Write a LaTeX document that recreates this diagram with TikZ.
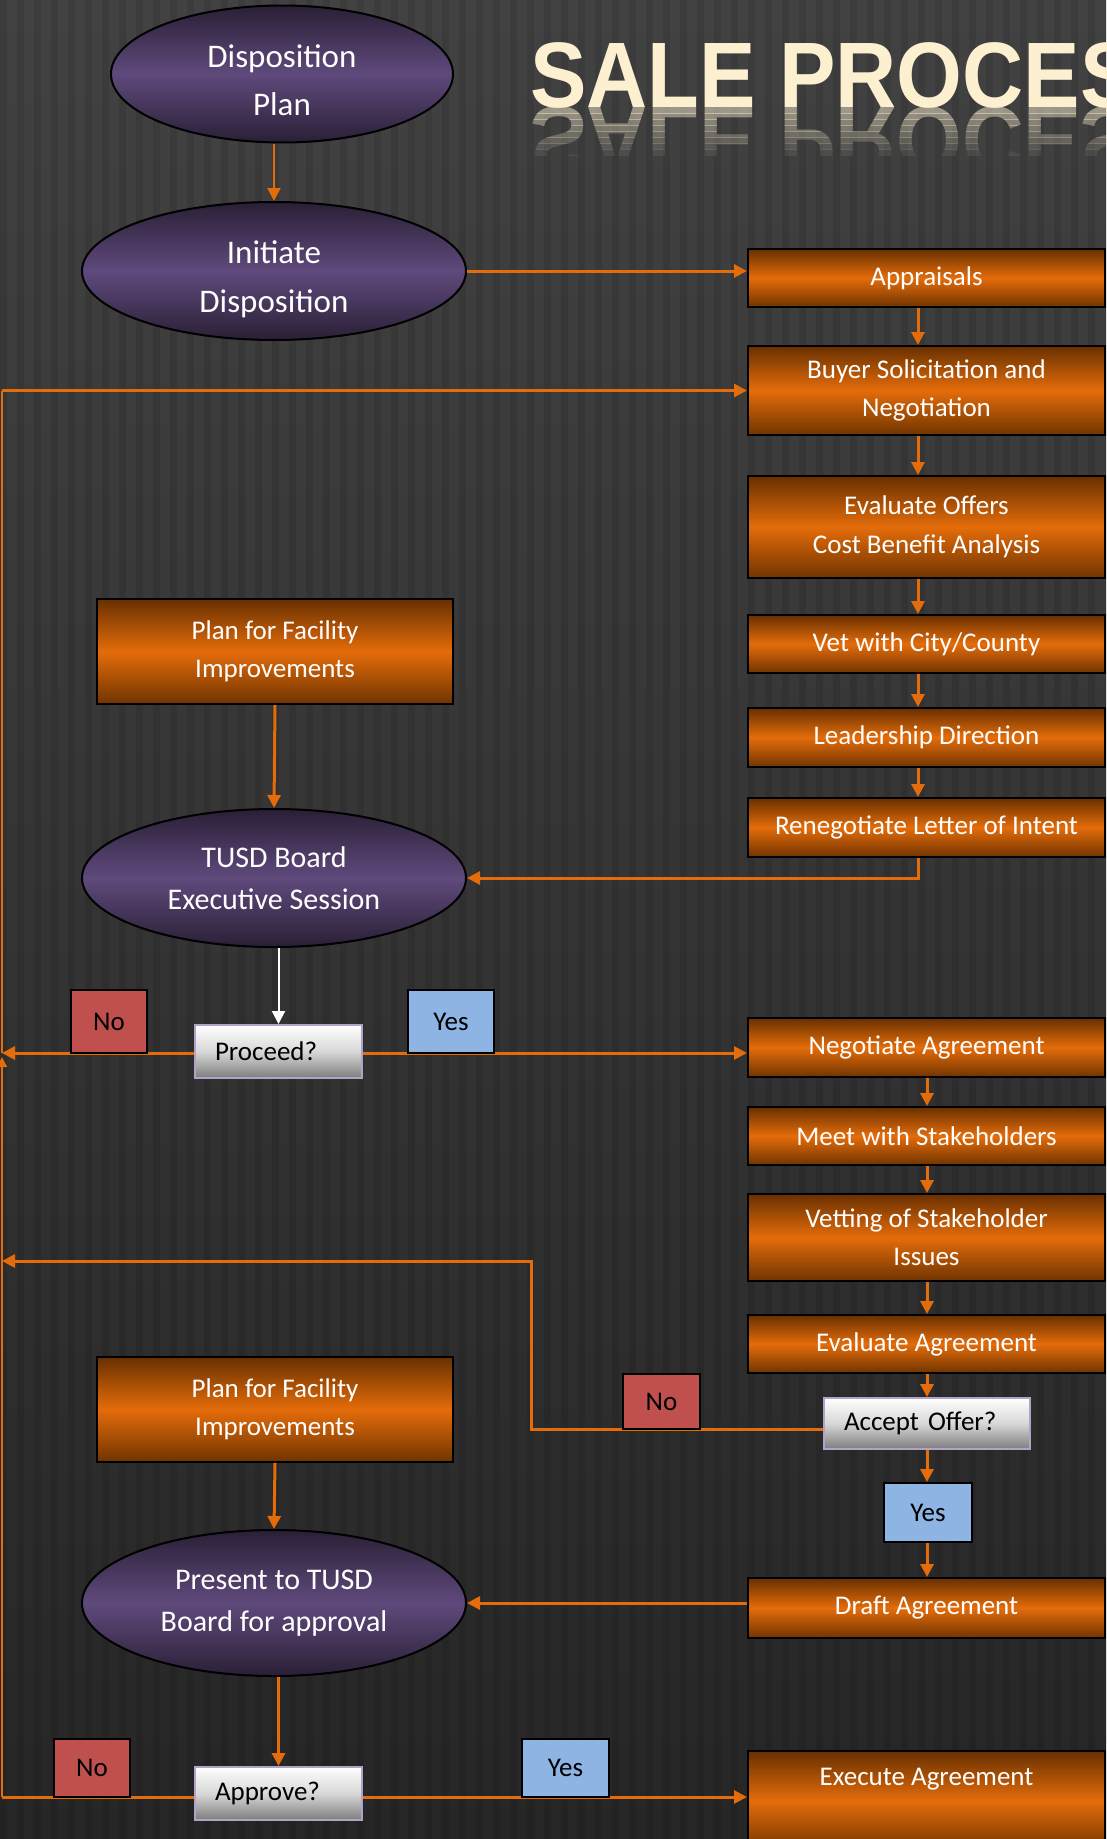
\documentclass[tikz,border=0pt]{standalone}
\usepackage{fontspec}
\setmainfont{Carlito}
\newfontfamily\titlefont{Liberation Sans}
\usetikzlibrary{arrows.meta,shapes.geometric,calc}

\definecolor{org}{RGB}{228,108,10}
\definecolor{orgdark}{RGB}{104,48,0}
\definecolor{orgdarkb}{RGB}{112,52,0}
\definecolor{purp}{RGB}{95,74,124}
\definecolor{purpdark}{RGB}{42,31,54}
\definecolor{nored}{RGB}{192,80,77}
\definecolor{yesblue}{RGB}{141,180,226}
\definecolor{lav}{RGB}{179,162,199}
\definecolor{cream}{RGB}{253,240,208}
\definecolor{bgtop}{RGB}{66,66,66}
\definecolor{bgbot}{RGB}{38,38,38}
\definecolor{decgray}{RGB}{125,125,125}
\definecolor{decmid}{RGB}{215,215,215}

\begin{document}
\begin{tikzpicture}[x=1pt,y=-1pt,
  obox/.style={draw=black, line width=2pt, top color=orgdark, bottom color=orgdarkb, middle color=org,
    text=white, align=center, minimum width=357pt, inner sep=0pt, font=\fontsize{27}{38}\selectfont},
  oval/.style={ellipse, draw=black, line width=2pt, top color=purpdark, bottom color=purpdark, middle color=purp,
    text=white, align=center, inner sep=0pt, minimum width=384pt, minimum height=138pt},
  dec/.style={draw=lav, line width=2pt, top color=white, bottom color=decgray, middle color=decmid,
    text=black, align=left, inner xsep=20pt, inner ysep=0pt, minimum height=53pt, font=\fontsize{27}{32}\selectfont},
  nolab/.style={draw=black, line width=2pt, fill=nored, text=black, minimum width=76pt, inner sep=0pt,
    font=\fontsize{27}{32}\selectfont},
  yeslab/.style={nolab, fill=yesblue},
  conn/.style={draw=org, line width=3pt},
  arr/.style={conn, -{Triangle[length=13pt,width=13pt]}},
  thinconn/.style={draw=org, line width=1.5pt},
  titlestyle/.style={font=\titlefont\bfseries\fontsize{93}{93}\selectfont, text=cream, xscale=0.91, anchor=base west, inner sep=0pt},
]
\useasboundingbox (0,0) rectangle (1106,1839);
\clip (0,0) rectangle (1106,1839);

% background
\fill[top color=bgtop, bottom color=bgbot] (0,0) rectangle (1106,1839);
\foreach \i in {0,...,65} \fill[black, opacity=0.09] (\i*17,0) rectangle ++(7,1839);

% title and reflection
\node[titlestyle] (title) at (530,107) {SALE PROCESS};
\foreach \i in {0,...,7} {
  \pgfmathsetmacro\op{0.5-0.06*\i}
  \begin{scope}
    \clip (500,107+6*\i) rectangle (1106,113+6*\i);
    \node[titlestyle, yscale=-1, opacity=\op] (refl\i) at (530,107) {SALE PROCESS};
  \end{scope}
}

% ellipses
\node[oval, minimum width=342pt, minimum height=137pt, text height=83pt, text depth=0pt, font=\fontsize{33}{48}\selectfont] (disp) at (282,74) {Disposition\\Plan};
\node[oval, text height=88pt, text depth=6pt, font=\fontsize{33}{49}\selectfont] (init) at (274,271) {Initiate\\Disposition};
\node[oval, font=\fontsize{30}{42}\selectfont] (tusd) at (274,878) {TUSD Board\\Executive Session};
\node[oval, minimum height=146pt, font=\fontsize{30}{42}\selectfont] (pres) at (274,1603) {Present to TUSD\\Board for approval};

% orange boxes right column
\node[obox, minimum height=58pt] (appr) at (926.5,278) {Appraisals};
\node[obox, minimum height=89pt] (buyer) at (926.5,390.5) {Buyer Solicitation and\\Negotiation};
\node[obox, minimum height=102pt, font=\fontsize{27}{39}\selectfont] (evoff) at (926.5,527) {Evaluate Offers\\Cost Benefit Analysis};
\node[obox, minimum height=58pt] (vet) at (926.5,644) {Vet with City/County};
\node[obox, minimum height=59pt] (lead) at (926.5,737.5) {Leadership Direction};
\node[obox, minimum height=59pt] (reneg) at (926.5,827.5) {Renegotiate Letter of Intent};
\node[obox, minimum height=59pt] (negot) at (926.5,1047.5) {Negotiate Agreement};
\node[obox, minimum height=58pt] (meet) at (926.5,1136) {Meet with Stakeholders};
\node[obox, minimum height=87pt] (vetting) at (926.5,1237.5) {Vetting of Stakeholder\\Issues};
\node[obox, minimum height=58pt] (evagr) at (926.5,1344) {Evaluate Agreement};
\node[obox, minimum height=60pt] (draft) at (926.5,1608) {Draft Agreement};
\node[obox, minimum height=100pt] (exec) at (926.5,1801) {\raisebox{16pt}[0pt][0pt]{Execute Agreement}};

% plan boxes
\node[obox, minimum width=356pt, minimum height=105pt] (plan1) at (275,651.5) {Plan for Facility\\Improvements};
\node[obox, minimum width=356pt, minimum height=105pt] (plan2) at (275,1409.5) {Plan for Facility\\Improvements};

% decisions
\node[dec, text width=127pt] (proceed) at (278.5,1051.5) {Proceed?};
\node[dec, text width=166pt, minimum height=51pt] (accept) at (927,1423.5) {Accept Offer?};
\node[dec, text width=127pt] (approve) at (278.5,1793.5) {Approve?};

% helper coordinates
\coordinate (colA) at (918,0);
\coordinate (colB) at (927,0);
\coordinate (lft) at (2,0);
\coordinate (bend) at (531,1261);
\coordinate (noline1) at (0,1053);
\coordinate (noline2) at (0,1429);
\coordinate (noline3) at (0,1797);

% connectors
\draw[arr, line width=2pt] (init.north |- disp.south) -- (init.north);
\draw[arr] (init.east) -- (init.east -| appr.west);
\foreach \a/\b in {appr/buyer, buyer/evoff, evoff/vet, vet/lead, lead/reneg}
  \draw[arr] (\a.south -| colA) -- (\b.north -| colA);
\draw[arr] (reneg.south -| colA) |- (tusd.east);
\draw[arr] (plan1.south) -- (tusd.north);
\draw[arr, draw=white, line width=2pt] (proceed.north |- tusd.south) -- (proceed.north);
\draw[arr] (proceed.west |- noline1) -- (lft |- noline1);
\draw[arr] (proceed.east |- noline1) -- (negot.west |- noline1);
\draw[arr] (negot.south -| colB) -- (meet.north -| colB);
\draw[arr] (meet.south -| colB) -- (vetting.north -| colB);
\draw[arr] (vetting.south -| colB) -- (evagr.north -| colB);
\draw[arr] (evagr.south -| colB) -- (accept.north -| colB);
\draw[arr] (accept.west |- noline2) -| (bend) -- (lft |- bend);
\draw[arr] (draft.west |- pres.east) -- (pres.east);
\draw[arr] (plan2.south) -- (pres.north);
\draw[arr] (approve.north |- pres.south) -- (approve.north);
\draw[arr] (approve.east |- noline3) -- (exec.west |- noline3);
\draw[conn] (approve.west |- noline3) -- (lft |- noline3);
\draw[thinconn, -{Triangle[length=10pt,width=10pt]}] (lft |- noline3) -- ($(lft |- noline1)+(0,4)$);
\draw[thinconn] (lft |- noline1) -- (lft |- buyer.west);
\draw[arr] (lft |- buyer.west) -- (buyer.west);

% yes/no labels
\node[nolab, minimum height=63pt] (no1) at (109,1021.5) {No};
\node[yeslab, minimum width=86pt, minimum height=63pt] (yes1) at (451,1021.5) {Yes};
\node[nolab, minimum width=77pt, minimum height=55pt] (no2) at (661.5,1401.5) {No};
\node[yeslab, minimum width=88pt, minimum height=59pt] (yes2) at (928,1512.5) {Yes};
\node[nolab, minimum height=58pt] (no3) at (92,1768) {No};
\node[yeslab, minimum width=87pt, minimum height=58pt] (yes3) at (565.5,1768) {Yes};

\draw[arr] (accept.south -| colB) -- (yes2.north -| colB);
\draw[arr] (yes2.south -| colB) -- (draft.north -| colB);
\end{tikzpicture}
\end{document}
